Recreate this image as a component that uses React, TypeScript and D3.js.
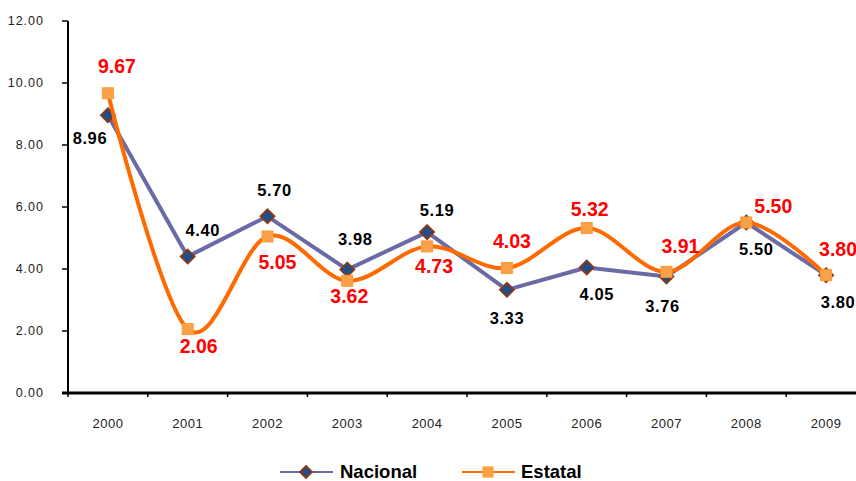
import * as d3 from "d3";

const years = ["2000", "2001", "2002", "2003", "2004", "2005", "2006", "2007", "2008", "2009"];
const nacional = [8.96, 4.4, 5.7, 3.98, 5.19, 3.33, 4.05, 3.76, 5.5, 3.8];
const estatal = [9.67, 2.06, 5.05, 3.62, 4.73, 4.03, 5.32, 3.91, 5.5, 3.8];
const yTicks = [0, 2, 4, 6, 8, 10, 12];

// label offsets from the point (px)
const nacOffsets = [[-18, 29], [15, -21], [7, -20], [8, -25], [10, -16], [0, 34], [10, 33], [-4, 36], [10, 32], [12, 33]];
const estOffsets = [[9, -20], [11, 24], [10, 33], [2, 22], [7, 27], [5, -20], [3, -12], [14, -19], [27, -10], [12, -19]];

const W = 856;
const H = 481;
const left = 68;
const top = 21;
const bottom = 393;
const FONT = "'Liberation Sans', Arial, sans-serif";

export default function App() {
  const x = d3.scaleBand().domain(years).range([left, left + 798]);
  const y = d3.scaleLinear().domain([0, 12]).range([bottom, top]);
  const cx = (i: number) => (x(years[i]) as number) + x.bandwidth() / 2;

  const straight = d3.line<number>().x((_, i) => cx(i)).y((d) => y(d));
  const smooth = d3
    .line<number>()
    .x((_, i) => cx(i))
    .y((d) => y(d))
    .curve(d3.curveCardinal.tension(0));

  const diamond = (px: number, py: number, r = 7) =>
    `M${px},${py - r}L${px + r},${py}L${px},${py + r}L${px - r},${py}Z`;

  return (
    <svg width={W} height={H} style={{ position: "absolute", left: 0, top: 0, background: "#fff" }} fontFamily={FONT}>
      {/* y axis */}
      <line x1={left} x2={left} y1={top} y2={bottom} stroke="#000" strokeWidth={2} />
      {yTicks.map((t) => (
        <g key={t}>
          <line x1={left - 6} x2={left} y1={y(t)} y2={y(t)} stroke="#000" strokeWidth={1.5} />
          <text x={44} y={y(t)} dy="0.35em" textAnchor="end" fontSize={12.5} letterSpacing={1} fill="#222">
            {t.toFixed(2)}
          </text>
        </g>
      ))}
      {/* x axis */}
      <line x1={left - 6} x2={W} y1={bottom} y2={bottom} stroke="#000" strokeWidth={3} />
      {years.map((yr, i) => (
        <g key={yr}>
          <line x1={x(yr) as number} x2={x(yr) as number} y1={bottom} y2={bottom + 4} stroke="#000" strokeWidth={1.5} />
          <text x={cx(i)} y={428} textAnchor="middle" fontSize={13} letterSpacing={0.5} fill="#222">
            {yr}
          </text>
        </g>
      ))}

      {/* Nacional */}
      <path d={straight(nacional) as string} fill="none" stroke="#6A6AA4" strokeWidth={4} strokeLinejoin="round" />
      {nacional.map((v, i) => (
        <path key={i} d={diamond(cx(i), y(v))} fill="#1F4E8A" stroke="#8A3A12" strokeWidth={1.8} />
      ))}

      {/* Estatal */}
      <path d={smooth(estatal) as string} fill="none" stroke="#FF6A00" strokeWidth={4} />
      {estatal.map((v, i) => (
        <rect key={i} x={cx(i) - 5.5} y={y(v) - 5.5} width={11} height={11} fill="#F7A24A" stroke="#FF9A2E" strokeWidth={1} />
      ))}

      {/* labels */}
      {nacional.map((v, i) => (
        <text
          key={"n" + i}
          x={cx(i) + nacOffsets[i][0]}
          y={y(v) + nacOffsets[i][1]}
          textAnchor="middle"
          fontSize={16.5}
          fontWeight="bold"
          letterSpacing={0.6}
          fill="#000"
        >
          {v.toFixed(2)}
        </text>
      ))}
      {estatal.map((v, i) => (
        <text
          key={"e" + i}
          x={cx(i) + estOffsets[i][0]}
          y={y(v) + estOffsets[i][1]}
          textAnchor="middle"
          fontSize={19.5}
          fontWeight="bold"
          fill="#FF0000"
        >
          {v.toFixed(2)}
        </text>
      ))}

      {/* legend */}
      <line x1={280} x2={333} y1={472} y2={472} stroke="#6A6AA4" strokeWidth={2} />
      <path d={diamond(306, 472, 6)} fill="#1F4E8A" stroke="#8A3A12" strokeWidth={1.8} />
      <text x={340} y={478} fontSize={18.5} fontWeight="bold" fill="#000">Nacional</text>
      <line x1={462} x2={515} y1={472} y2={472} stroke="#FF6A00" strokeWidth={2} />
      <rect x={483} y={467} width={10} height={10} fill="#F7A24A" stroke="#FF9A2E" />
      <text x={521} y={478} fontSize={18.5} fontWeight="bold" fill="#000">Estatal</text>
    </svg>
  );
}
